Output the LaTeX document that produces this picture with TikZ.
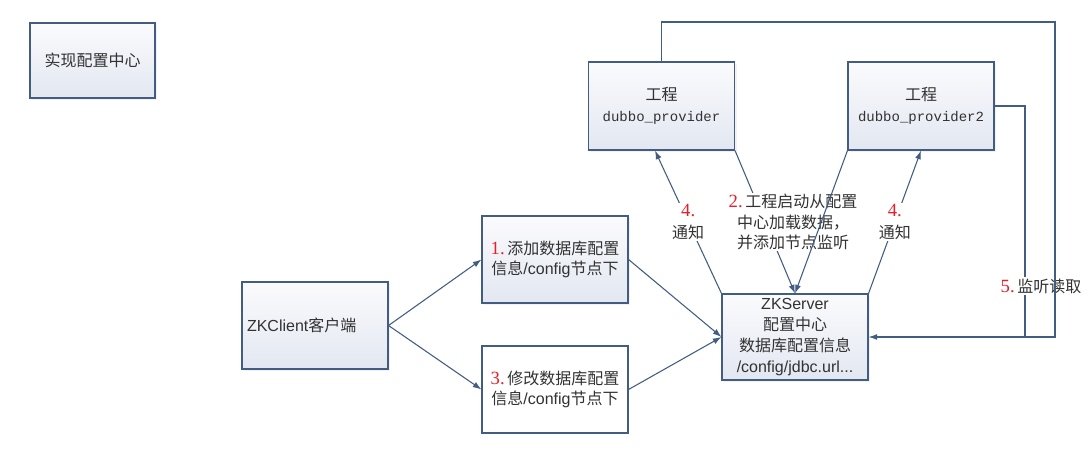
\documentclass[tikz,border=0pt]{standalone}
\usepackage{fontspec}
\setmainfont{Liberation Sans}
\setmonofont{Liberation Mono}
\newfontfamily\cjk{Noto Sans CJK SC}
\newfontfamily\numf{Liberation Serif}
\usetikzlibrary{arrows.meta,shadows}

\definecolor{edge}{RGB}{66,92,130}
\definecolor{boxtop}{RGB}{251,251,253}
\definecolor{boxbot}{RGB}{226,231,241}
\definecolor{txt}{RGB}{50,50,50}
\definecolor{numred}{RGB}{232,30,40}

\newcommand{\stepno}[1]{{\numf\fontsize{14pt}{15.5pt}\selectfont\color{numred}#1}}

\begin{document}
\begin{tikzpicture}[x=0.75pt, y=-0.75pt, >={Latex[length=6.5pt,width=4.5pt]},
    frame/.style={draw=edge, line width=0.8pt, minimum width=109.5pt, minimum height=65.25pt,
        inner sep=1pt, align=center, text=txt, font=\fontsize{12pt}{15.5pt}\selectfont},
    box/.style={frame, top color=boxtop, bottom color=boxbot,
        drop shadow={shadow xshift=1.5pt, shadow yshift=-1.5pt, fill=black!10}},
    lbl/.style={fill=white, inner sep=1pt, align=center, text=txt, font=\fontsize{12pt}{15.5pt}\selectfont},
    line/.style={draw=edge, line width=0.8pt}]

    \useasboundingbox (0,0) rectangle (1092,449);

    \node[box, minimum width=93.75pt, minimum height=56.25pt] (goal) at (92.5,60.5) {\cjk 实现配置中心};

    \node[box, minimum height=66pt] (dp) at (661.5,106) {{\cjk 工程}\\{\ttfamily\fontsize{10.5pt}{15.5pt}\selectfont dubbo\_provider}};
    \node[box, minimum height=66pt] (dp2) at (921,106) {{\cjk 工程}\\{\ttfamily\fontsize{10.5pt}{15.5pt}\selectfont dubbo\_provider2}};

    \node[box, minimum height=64.5pt, font=\fontsize{12pt}{15.8pt}\selectfont] (zks) at (795,337)
        {ZKServer\\{\cjk 配置中心}\\{\cjk 数据库配置信息}\\/config/jdbc.url...};

    \node[box, align=left, text width=102pt, inner xsep=3.75pt] (cli) at (315,325.5) {ZKClient{\cjk 客户端}};

    \node[box] (add) at (555,259.5) {\stepno{1.}\,{\cjk 添加数据库配置}\\{\cjk 信息}/config{\cjk 节点下}};
    \node[frame, fill=white] (mod) at (555,389.5) {\stepno{3.}\,{\cjk 修改数据库配置}\\{\cjk 信息}/config{\cjk 节点下}};

    \coordinate (top) at (1055,22);
    \coordinate (mid) at (1025,337);

    \draw[line, ->] (cli.east) -- (add.west);
    \draw[line, ->] (cli.east) -- (mod.west);

    \draw[line, ->] (add.east) -- (zks.west);
    \draw[line, ->] (mod.east) -- (zks.west);

    \draw[line, ->] (zks.north west) -- node[lbl, font=\fontsize{12pt}{17pt}\selectfont] {\stepno{4.}\\{\cjk 通知}} ([xshift=-4.9pt]dp.south);
    \draw[line, ->] (zks.north east) -- node[lbl, font=\fontsize{12pt}{17pt}\selectfont] {\stepno{4.}\\{\cjk 通知}} (dp2.south);

    \draw[line, ->] (dp.south east) -- (zks.north);
    \node[lbl] (load) at (793,222) {\stepno{2.}\,{\cjk 工程启动从配置}\\{\cjk 中心加载数据，}\\{\cjk 并添加节点监听}};
    \draw[line, ->] (dp2.south west) -- (zks.north);

    \draw[line] (dp2.east) -| (mid);
    \node[lbl] (watch) at (1041,286) {\stepno{5.}\,{\cjk 监听读取}};
    \draw[line, ->] (dp.north) |- (top) |- (zks.east);

\end{tikzpicture}
\end{document}
